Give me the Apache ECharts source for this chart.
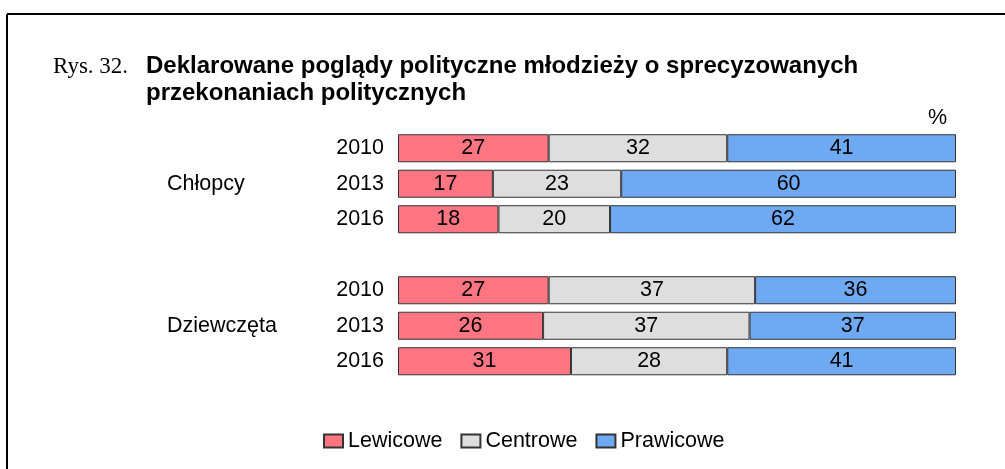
<!DOCTYPE html>
<html><head><meta charset="utf-8">
<script src="https://cdn.jsdelivr.net/npm/echarts@6/dist/echarts.min.js"></script>
<style>html,body{margin:0;padding:0;background:#fff}#c{width:1005px;height:469px}</style>
</head><body><div id="c"></div>
<script>
const years = ['2010','2013','2016','','2010','2013','2016'];
const groups = ['','Chłopcy','','','','Dziewczęta',''];
const seriesNames = ['Lewicowe','Centrowe','Prawicowe'];
const lewicowe = [27,17,18,'-',27,26,31];
const centrowe = [32,23,20,'-',37,37,28];
const prawicowe = [41,60,62,'-',36,37,41];
const colors = ['#FF7682','#DEDEDE','#6FA9F2'];
const titleLines = ['Deklarowane poglądy polityczne młodzieży o sprecyzowanych','przekonaniach politycznych'];

const chart = echarts.init(document.getElementById('c'), null, {renderer:'canvas'});
const F = 'Liberation Sans, Arial, sans-serif';
const dataArr = [lewicowe, centrowe, prawicowe];
const option = {
  animation:false,
  backgroundColor:'#fff',
  textStyle:{fontFamily:F},
  grid:{left:398, right:49, top:130.5, height:248.5},
  xAxis:{type:'value', min:0, max:100, show:false},
  yAxis:[
    {type:'category', data:years, inverse:true, axisLine:{show:false}, axisTick:{show:false},
     axisLabel:{color:'#000', fontSize:21.5, fontFamily:F, margin:14}},
    {type:'category', data:groups, inverse:true, position:'left', axisLine:{show:false}, axisTick:{show:false},
     axisLabel:{color:'#000', fontSize:21.5, fontFamily:F, align:'left', margin:231, interval:0}}
  ],
  legend:{left:318, top:425, icon:'rect', itemWidth:19, itemHeight:13, itemGap:18,
    textStyle:{fontSize:21.5, color:'#000', fontFamily:F, padding:[0,0,0,0]},
    data:seriesNames},
  series: seriesNames.map((n,i)=>({
    name:n, type:'bar', stack:'s', data:dataArr[i], barCategoryGap:'21%',
    itemStyle:{color:colors[i], borderColor:'#333', borderWidth:1},
    label:{show:true, position:'inside', color:'#000', fontSize:21.5, fontFamily:F},
    emphasis:{disabled:true}
  })),
  graphic:[
    {type:'line', shape:{x1:7, y1:14, x2:1005, y2:14}, style:{stroke:'#000', lineWidth:2}},
    {type:'line', shape:{x1:7, y1:14, x2:7, y2:469}, style:{stroke:'#000', lineWidth:2}},
    {type:'text', left:53, top:55, style:{text:'Rys. 32.', font:'23px "Liberation Serif", "Times New Roman", serif', fill:'#000'}},
    {type:'text', left:146, top:53, style:{text:titleLines.join('\n'), font:'bold 24px '+F, fill:'#000', lineHeight:27}},
    {type:'text', left:928, top:107, style:{text:'%', font:'21.5px '+F, fill:'#000'}}
  ]
};
chart.setOption(option);
</script></body></html>
